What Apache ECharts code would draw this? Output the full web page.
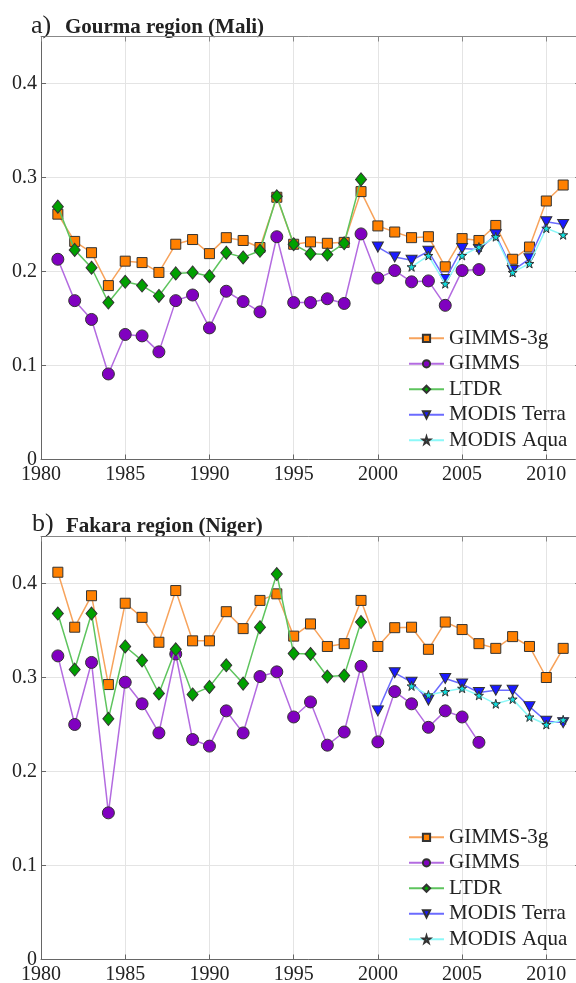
<!DOCTYPE html>
<html><head><meta charset="utf-8">
<script src="https://cdn.jsdelivr.net/npm/echarts@6/dist/echarts.min.js"></script>
<style>html,body{margin:0;padding:0;background:#fff}#c{width:576px;height:983px}</style>
</head><body><div id="c"></div>
<script>
const yearsAll = [1981,1982,1983,1984,1985,1986,1987,1988,1989,1990,1991,1992,1993,1994,1995,1996,1997,1998,1999,2000,2001,2002,2003,2004,2005,2006,2007,2008,2009,2010,2011];
const yearsGimms = [1981,1982,1983,1984,1985,1986,1987,1988,1989,1990,1991,1992,1993,1994,1995,1996,1997,1998,1999,2000,2001,2002,2003,2004,2005,2006];
const yearsLtdr = [1981,1982,1983,1984,1985,1986,1987,1988,1989,1990,1991,1992,1993,1994,1995,1996,1997,1998,1999];
const yearsTerra = [2000,2001,2002,2003,2004,2005,2006,2007,2008,2009,2010,2011];
const yearsAqua = [2002,2003,2004,2005,2006,2007,2008,2009,2010,2011];

// a) Gourma region (Mali)
const gimms3gA = [0.261,0.232,0.220,0.185,0.211,0.2095,0.199,0.229,0.234,0.219,0.236,0.233,0.2255,0.279,0.229,0.2315,0.230,0.231,0.285,0.2485,0.242,0.236,0.237,0.205,0.235,0.233,0.249,0.213,0.226,0.275,0.292];
const gimmsA = [0.213,0.169,0.149,0.091,0.133,0.1315,0.1145,0.169,0.175,0.140,0.179,0.168,0.157,0.237,0.167,0.167,0.171,0.166,0.240,0.193,0.201,0.189,0.190,0.164,0.201,0.202];
const ltdrA = [0.269,0.223,0.204,0.167,0.189,0.185,0.174,0.198,0.199,0.195,0.220,0.215,0.222,0.280,0.229,0.219,0.218,0.230,0.298];
const terraA = [0.226,0.2155,0.212,0.2215,0.1915,0.2245,0.2235,0.239,0.201,0.2135,0.253,0.250];
const aquaA = [0.205,0.217,0.187,0.217,0.226,0.237,0.199,0.2085,0.246,0.239];

// b) Fakara region (Niger)
const gimms3gB = [0.412,0.3535,0.387,0.2925,0.379,0.364,0.3375,0.3925,0.339,0.339,0.370,0.352,0.382,0.389,0.344,0.357,0.333,0.336,0.382,0.333,0.353,0.3535,0.330,0.359,0.351,0.336,0.331,0.3435,0.333,0.300,0.331];
const gimmsB = [0.323,0.250,0.316,0.156,0.295,0.272,0.241,0.325,0.234,0.227,0.2645,0.241,0.301,0.306,0.258,0.274,0.228,0.242,0.312,0.2315,0.285,0.272,0.247,0.2645,0.258,0.231];
const ltdrB = [0.368,0.3085,0.368,0.256,0.333,0.318,0.283,0.330,0.282,0.290,0.313,0.2935,0.3535,0.410,0.3255,0.325,0.301,0.302,0.359];
const terraB = [0.2645,0.305,0.295,0.276,0.299,0.293,0.284,0.2865,0.2865,0.269,0.2535,0.252];
const aquaB = [0.291,0.2815,0.285,0.2885,0.281,0.272,0.277,0.258,0.250,0.255];

const seriesNames = ['GIMMS-3g','GIMMS','LTDR','MODIS Terra','MODIS Aqua'];
const panelTitles = ['a)','Gourma region (Mali)','b)','Fakara region (Niger)'];
const yTickLabels = ['0','0.1','0.2','0.3','0.4'];

const FONT = '"Liberation Serif","Times New Roman",serif';
const STAR = 'path://M50,0 L61,35 L98,35 L68,57 L79,91 L50,70 L21,91 L32,57 L2,35 L39,35 Z';
const TRI_DOWN = 'path://M0,0 L10,0 L5,9 Z';
const styles = [
  {symbol:'rect', size:10, fill:'#FF8000', line:'#F7A35C'},
  {symbol:'circle', size:12, fill:'#8000C0', line:'#B36BE0'},
  {symbol:'diamond', size:[11,13], fill:'#00A000', line:'#5EC45E'},
  {symbol:TRI_DOWN, size:[11,10], fill:'#1A1AFF', line:'#6B6BFF'},
  {symbol:STAR, size:9, fill:'#10E0E0', line:'#8CF8F8'}
];

function pairs(xs, ys){ return xs.map((x,i)=>[x, ys[i]]); }

const panels = [
  {top:36.5, data:[pairs(yearsAll,gimms3gA),pairs(yearsGimms,gimmsA),pairs(yearsLtdr,ltdrA),pairs(yearsTerra,terraA),pairs(yearsAqua,aquaA)]},
  {top:536.5, data:[pairs(yearsAll,gimms3gB),pairs(yearsGimms,gimmsB),pairs(yearsLtdr,ltdrB),pairs(yearsTerra,terraB),pairs(yearsAqua,aquaB)]}
];

const AX = '#666';
const grid = [], xAxis = [], yAxis = [], series = [];
panels.forEach((p, k) => {
  grid.push({left:41, top:p.top, width:539, height:423, outerBoundsMode:'none', containLabel:false});
  xAxis.push({type:'value', gridIndex:k, min:1980, max:2012, interval:5, position:'bottom',
    axisLine:{show:true, onZero:false, lineStyle:{color:AX, width:1}},
    axisTick:{show:true, inside:true, length:5, lineStyle:{color:AX}},
    axisLabel:{show:true, margin:5, fontFamily:FONT, fontSize:20, color:'#222',
      formatter:v => (v % 5 === 0 && v < 2012) ? String(v) : ''},
    splitLine:{show:true, lineStyle:{color:'#e4e4e4', width:1}}});
  xAxis.push({type:'value', gridIndex:k, min:1980, max:2012, interval:5, position:'top',
    axisLine:{show:true, onZero:false, lineStyle:{color:'#888', width:1}},
    axisTick:{show:true, inside:true, length:5, lineStyle:{color:'#888'}},
    axisLabel:{show:false}, splitLine:{show:false}});
  yAxis.push({type:'value', gridIndex:k, min:0, max:0.45, interval:0.1, position:'left',
    axisLine:{show:true, onZero:false, lineStyle:{color:AX, width:1}},
    axisTick:{show:true, inside:true, length:5, lineStyle:{color:AX}},
    axisLabel:{show:true, margin:4, fontFamily:FONT, fontSize:20, color:'#222',
      formatter:v => { const i = Math.round(v*10); return (Math.abs(v*10 - i) < 1e-6 && i < yTickLabels.length) ? yTickLabels[i] : ''; }},
    splitLine:{show:true, lineStyle:{color:'#e4e4e4', width:1}}});
  yAxis.push({type:'value', gridIndex:k, min:0, max:0.45, interval:0.1, position:'right',
    axisLine:{show:true, onZero:false, lineStyle:{color:'#888', width:1}},
    axisTick:{show:true, inside:true, length:5, lineStyle:{color:'#888'}},
    axisLabel:{show:false}, splitLine:{show:false}});
  p.data.forEach((d, i) => {
    const s = styles[i];
    series.push({name:seriesNames[i], type:'line', xAxisIndex:2*k, yAxisIndex:2*k, data:d,
      symbol:s.symbol, symbolSize:s.size, showSymbol:true, showAllSymbol:true, animation:false,
      lineStyle:{color:s.line, width:1.5},
      itemStyle:{color:s.fill, borderColor:'#333', borderWidth:1},
      emphasis:{disabled:true}, z:2+i});
  });
});

const legendCommon = {orient:'vertical', left:408, itemWidth:35, itemHeight:9, itemGap:4.5, padding:0,
  textStyle:{fontFamily:FONT, fontSize:21, color:'#222'}, data:seriesNames, selectedMode:false};

const option = {
  backgroundColor:'#fff',
  animation:false,
  grid, xAxis, yAxis, series,
  legend:[Object.assign({top:327.8}, legendCommon), Object.assign({top:826.8}, legendCommon)],
  graphic:[
    {type:'text', left:31, top:13, style:{text:panelTitles[0], font:'26px '+FONT, fill:'#222'}},
    {type:'text', left:65, top:17, style:{text:panelTitles[1], font:'bold 21px '+FONT, fill:'#222'}},
    {type:'text', left:32, top:511, style:{text:panelTitles[2], font:'26px '+FONT, fill:'#222'}},
    {type:'text', left:66, top:516, style:{text:panelTitles[3], font:'bold 21px '+FONT, fill:'#222'}}
  ]
};
const chart = echarts.init(document.getElementById('c'), null, {renderer:'canvas'});
chart.setOption(option);
</script></body></html>
